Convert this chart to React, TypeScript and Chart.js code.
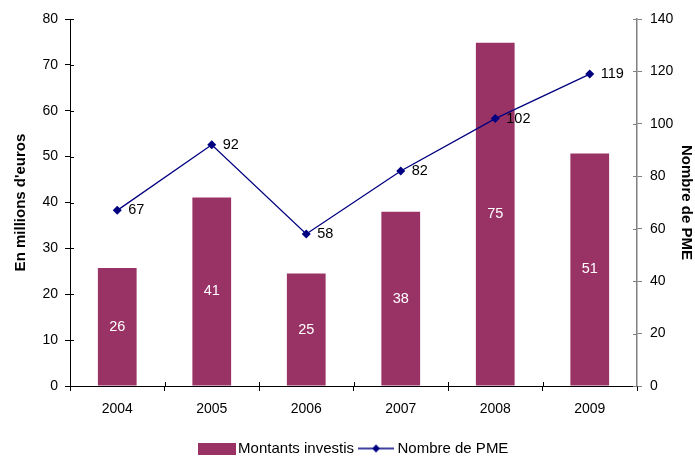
import React, { useEffect, useRef } from "react";
import { Chart, registerables } from "chart.js";

Chart.register(...registerables);

const years = ["2004", "2005", "2006", "2007", "2008", "2009"];
const montants = [25.7, 41.1, 24.5, 38.0, 74.8, 50.7];
const nombrePME = [67, 92, 58, 82, 102, 119];
const leftTicks = { min: 0, max: 80, step: 10 };
const rightTicks = { min: 0, max: 140, step: 20 };

const BAR_COLOR = "#993366";
const LINE_COLOR = "#000080";
const FONT = "'Liberation Sans', Arial, sans-serif";

function makeBarSwatch() {
  const c = document.createElement("canvas");
  c.width = 38;
  c.height = 12;
  const ctx = c.getContext("2d")!;
  ctx.fillStyle = BAR_COLOR;
  ctx.fillRect(0, 0, 38, 12);
  return c;
}

function makeLineSwatch() {
  const c = document.createElement("canvas");
  c.width = 36;
  c.height = 12;
  const ctx = c.getContext("2d")!;
  ctx.strokeStyle = LINE_COLOR;
  ctx.lineWidth = 1.3;
  ctx.beginPath();
  ctx.moveTo(0, 6);
  ctx.lineTo(36, 6);
  ctx.stroke();
  ctx.fillStyle = LINE_COLOR;
  ctx.beginPath();
  ctx.moveTo(18, 2);
  ctx.lineTo(22, 6);
  ctx.lineTo(18, 10);
  ctx.lineTo(14, 6);
  ctx.closePath();
  ctx.fill();
  return c;
}

const labelsPlugin = {
  id: "valueLabels",
  afterDatasetsDraw(chart: any) {
    const ctx = chart.ctx;
    ctx.save();
    ctx.font = `14.5px ${FONT}`;
    chart.data.datasets.forEach((ds: any, i: number) => {
      const meta = chart.getDatasetMeta(i);
      meta.data.forEach((el: any, j: number) => {
        const v = ds.data[j];
        if (ds.type === "bar") {
          ctx.fillStyle = "#ffffff";
          ctx.textAlign = "center";
          ctx.textBaseline = "middle";
          ctx.fillText(String(Math.round(v)), el.x, (el.y + el.base) / 2);
        } else {
          ctx.fillStyle = "#000000";
          ctx.textAlign = "left";
          ctx.textBaseline = "middle";
          ctx.fillText(String(v), el.x + 11, el.y);
        }
      });
    });
    ctx.restore();
  },
  afterDraw(chart: any) {
    const ctx = chart.ctx;
    const { left, right, bottom } = chart.chartArea;
    ctx.save();
    ctx.lineWidth = 1;
    const y = chart.scales.y;
    ctx.strokeStyle = "#000000";
    y.ticks.forEach((_t: any, i: number) => {
      const py = Math.round(y.getPixelForTick(i)) + 0.5;
      ctx.beginPath();
      ctx.moveTo(left, py);
      ctx.lineTo(left + 4, py);
      ctx.stroke();
    });
    const y1 = chart.scales.y1;
    ctx.strokeStyle = "#808080";
    y1.ticks.forEach((_t: any, i: number) => {
      const py = Math.round(y1.getPixelForTick(i)) + 0.5;
      ctx.beginPath();
      ctx.moveTo(right, py);
      ctx.lineTo(right - 4, py);
      ctx.stroke();
    });
    const x = chart.scales.x;
    ctx.strokeStyle = "#000000";
    const n = years.length;
    for (let i = 1; i < n; i++) {
      const px = Math.round((x.getPixelForValue(i - 1) + x.getPixelForValue(i)) / 2) + 0.5;
      ctx.beginPath();
      ctx.moveTo(px, bottom);
      ctx.lineTo(px, bottom - 4);
      ctx.stroke();
    }
    ctx.restore();
  },
};

export default function App() {
  const ref = useRef<HTMLCanvasElement>(null);
  useEffect(() => {
    const barSwatch = makeBarSwatch();
    const lineSwatch = makeLineSwatch();
    const chart = new Chart(ref.current!, {
      type: "bar",
      data: {
        labels: years,
        datasets: [
          {
            type: "bar",
            label: "Montants investis",
            data: montants,
            backgroundColor: BAR_COLOR,
            yAxisID: "y",
            barPercentage: 0.41,
            categoryPercentage: 1,
            order: 2,
          } as any,
          {
            type: "line",
            label: "Nombre de PME",
            data: nombrePME,
            borderColor: LINE_COLOR,
            backgroundColor: LINE_COLOR,
            borderWidth: 1.3,
            pointStyle: "rectRot",
            pointRadius: 4.5,
            pointBackgroundColor: LINE_COLOR,
            pointBorderWidth: 0,
            yAxisID: "y1",
            tension: 0,
            order: 1,
          } as any,
        ],
      },
      options: {
        responsive: false,
        animation: false,
        layout: { padding: { top: 19, left: 12, right: -4, bottom: -10 } },
        plugins: {
          tooltip: { enabled: false },
          legend: {
            position: "bottom",
            labels: {
              usePointStyle: true,
              pointStyleWidth: 28,
              boxHeight: 12,
              padding: 8,
              color: "#000",
              font: { family: FONT, size: 15 },
              generateLabels: () => [
                {
                  text: "Montants investis",
                  pointStyle: barSwatch,
                  fillStyle: BAR_COLOR,
                  strokeStyle: BAR_COLOR,
                  lineWidth: 0,
                  datasetIndex: 0,
                  hidden: false,
                } as any,
                {
                  text: "Nombre de PME",
                  pointStyle: lineSwatch,
                  fillStyle: LINE_COLOR,
                  strokeStyle: LINE_COLOR,
                  lineWidth: 0,
                  datasetIndex: 1,
                  hidden: false,
                } as any,
              ],
            },
          },
        },
        scales: {
          x: {
            offset: true,
            grid: {
              offset: true,
              drawOnChartArea: false,
              tickLength: 5,
              color: "#000",
            },
            border: { color: "#000", width: 1 },
            ticks: { color: "#000", font: { family: FONT, size: 14 }, padding: 10 },
            afterFit: (s: any) => {
              s.height = 47;
            },
          },
          y: {
            position: "left",
            min: leftTicks.min,
            max: leftTicks.max,
            ticks: { stepSize: leftTicks.step, color: "#000", font: { family: FONT, size: 14 }, padding: 7 },
            grid: { drawOnChartArea: false, tickLength: 5, color: "#000" },
            border: { color: "#000", width: 1 },
            title: {
              display: true,
              text: "En millions d'euros",
              color: "#000",
              font: { family: FONT, size: 15, weight: "bold" },
              padding: { top: 0, bottom: 4 },
            },
            afterFit: (s: any) => {
              s.width = 58;
            },
          },
          y1: {
            position: "right",
            min: rightTicks.min,
            max: rightTicks.max,
            ticks: { stepSize: rightTicks.step, color: "#000", font: { family: FONT, size: 14 }, padding: 8 },
            grid: { drawOnChartArea: false, tickLength: 5, color: "#808080" },
            border: { color: "#808080", width: 1.5 },
            title: {
              display: true,
              text: "Nombre de PME",
              color: "#000",
              font: { family: FONT, size: 15, weight: "bold" },
              padding: { top: 4, bottom: 0 },
            },
            afterFit: (s: any) => {
              s.width = 62;
            },
          },
        },
      },
      plugins: [labelsPlugin],
    } as any);
    return () => chart.destroy();
  }, []);
  return (
    <div style={{ position: "absolute", left: 0, top: 0, width: 695, height: 456, background: "#fff" }}>
      <canvas ref={ref} width={695} height={456} style={{ width: 695, height: 456 }} />
    </div>
  );
}
